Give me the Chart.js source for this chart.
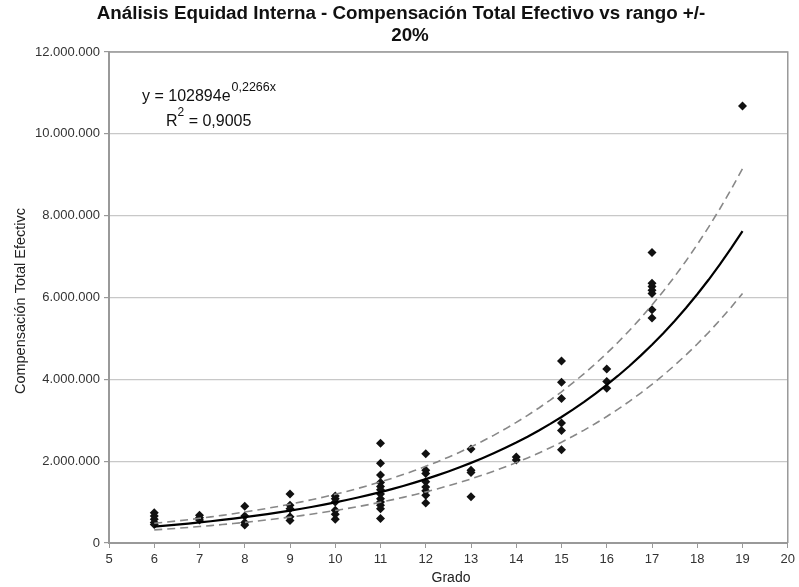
<!DOCTYPE html>
<html>
<head>
<meta charset="utf-8">
<script src="https://cdn.jsdelivr.net/npm/chart.js@4.4.1/dist/chart.umd.min.js"></script>
<style>
  html, body { margin: 0; padding: 0; background: #fff; }
  #wrap { width: 799px; height: 587px; }
</style>
</head>
<body>
<div id="wrap"><canvas id="c" width="799" height="587"></canvas></div>
<script>
// ---- Data ----
const titleLines = ["Análisis Equidad Interna - Compensación Total Efectivo vs rango +/-", "20%"];
const xAxisTitle = "Grado";
const yAxisTitle = "Compensación Total Efectivc";
const equationText = "y = 102894e";
const equationExp = "0,2266x";
const r2Text = " = 0,9005";

const grades = [6, 7, 8, 9, 10, 11, 12, 13, 14, 15, 16, 17, 19];
// compensation values per grade, in millions
const comp6  = [0.74, 0.66, 0.58, 0.50, 0.45];
const comp7  = [0.68, 0.62, 0.56];
const comp8  = [0.90, 0.66, 0.50, 0.44];
const comp9  = [1.20, 0.92, 0.84, 0.64, 0.55];
const comp10 = [1.15, 1.08, 1.00, 0.80, 0.70, 0.58];
const comp11 = [2.44, 1.95, 1.66, 1.48, 1.38, 1.30, 1.20, 1.08, 1.00, 0.92, 0.84, 0.60];
const comp12 = [2.18, 1.78, 1.70, 1.50, 1.37, 1.28, 1.17, 0.98];
const comp13 = [2.30, 1.78, 1.72, 1.13];
const comp14 = [2.10, 2.03];
const comp15 = [4.45, 3.93, 3.53, 2.93, 2.75, 2.28];
const comp16 = [4.25, 3.95, 3.78];
const comp17 = [7.10, 6.35, 6.27, 6.18, 6.10, 5.70, 5.50];
const comp19 = [10.68];
const compByGrade = [comp6, comp7, comp8, comp9, comp10, comp11, comp12, comp13, comp14, comp15, comp16, comp17, comp19];

// Trendline as printed on the chart: y = 102894 e^(0.2266x), band +/- 20%
const trendA = 102894;
const trendB = 0.2266;
const bandPct = 0.20;
const trendStart = 6, trendEnd = 19;

const yTicksMax = 12000000, yStep = 2000000;
const xMin = 5, xMax = 20;

// ---- Build datasets ----
const scatterPts = [];
grades.forEach((g, i) => compByGrade[i].forEach(v => scatterPts.push({ x: g, y: v * 1e6 })));

const trendPts = [], upperPts = [], lowerPts = [];
for (let x = trendStart; x <= trendEnd + 1e-9; x += 0.25) {
  const y = trendA * Math.exp(trendB * x);
  trendPts.push({ x, y });
  upperPts.push({ x, y: y * (1 + bandPct) });
  lowerPts.push({ x, y: y * (1 - bandPct) });
}

const FONT = "'Liberation Sans', Arial, Helvetica, sans-serif";

function fmt(v) {
  return String(Math.round(v)).replace(/\B(?=(\d{3})+(?!\d))/g, ".");
}

const decor = {
  id: 'decor',
  afterDraw(chart) {
    const ctx = chart.ctx;
    const a = chart.chartArea;
    ctx.save();
    // top & right border
    ctx.strokeStyle = '#999';
    ctx.lineWidth = 1.5;
    ctx.beginPath();
    ctx.moveTo(a.left, a.top);
    ctx.lineTo(a.right, a.top);
    ctx.lineTo(a.right, a.bottom);
    ctx.stroke();

    // title
    ctx.fillStyle = '#111';
    ctx.textAlign = 'center';
    ctx.textBaseline = 'middle';
    ctx.font = "bold 18.8px " + FONT;
    ctx.fillText(titleLines[0], 401, 14);
    ctx.fillText(titleLines[1], 410, 36);

    // x title
    ctx.font = "14px " + FONT;
    ctx.fillStyle = '#222';
    ctx.fillText(xAxisTitle, 451, 578);

    // y title
    ctx.save();
    ctx.translate(21, 301);
    ctx.rotate(-Math.PI / 2);
    ctx.font = "14.5px " + FONT;
    ctx.fillText(yAxisTitle, 0, 0);
    ctx.restore();

    // equation
    ctx.textAlign = 'left';
    ctx.textBaseline = 'alphabetic';
    ctx.font = "16px " + FONT;
    ctx.fillStyle = '#111';
    ctx.fillText(equationText, 142, 101);
    let w = ctx.measureText(equationText).width;
    ctx.font = "12.5px " + FONT;
    ctx.fillText(equationExp, 142 + w + 1, 91);

    ctx.font = "16px " + FONT;
    ctx.fillText("R", 166, 126);
    const wr = ctx.measureText("R").width;
    ctx.font = "12px " + FONT;
    ctx.fillText("2", 166 + wr, 116);
    const w2 = ctx.measureText("2").width;
    ctx.font = "16px " + FONT;
    ctx.fillText(r2Text, 166 + wr + w2, 126);
    ctx.restore();
  }
};

new Chart(document.getElementById('c'), {
  type: 'scatter',
  data: {
    datasets: [
      { label: 'trend', data: trendPts, showLine: true, borderColor: '#000', borderWidth: 2.2, pointRadius: 0, fill: false, tension: 0 },
      { label: 'upper', data: upperPts, showLine: true, borderColor: '#888', borderWidth: 1.6, borderDash: [8, 5], pointRadius: 0, fill: false },
      { label: 'lower', data: lowerPts, showLine: true, borderColor: '#888', borderWidth: 1.6, borderDash: [8, 5], pointRadius: 0, fill: false },
      { label: 'comp', data: scatterPts, pointStyle: 'rectRot', pointRadius: 4.5, pointBackgroundColor: '#111', pointBorderColor: '#111', pointBorderWidth: 0, showLine: false }
    ]
  },
  options: {
    responsive: false,
    devicePixelRatio: 1,
    animation: false,
    layout: { padding: { left: 0, right: 6, top: 52, bottom: 0 } },
    plugins: { legend: { display: false }, title: { display: false }, tooltip: { enabled: false } },
    scales: {
      x: {
        type: 'linear', min: xMin, max: xMax,
        ticks: { stepSize: 1, color: '#333', font: { family: FONT, size: 13 }, padding: 4, maxRotation: 0 },
        grid: { drawOnChartArea: false, drawTicks: true, tickLength: 5, tickColor: '#999' },
        border: { color: '#999', width: 2 },
        afterFit(s) { s.height = 44; }
      },
      y: {
        min: 0, max: yTicksMax,
        ticks: { stepSize: yStep, color: '#333', font: { family: FONT, size: 13 }, padding: 4, callback: v => fmt(v) },
        grid: { color: '#c8c8c8', lineWidth: 1.2, tickLength: 5, tickColor: '#999' },
        border: { color: '#999', width: 2 },
        afterFit(s) { s.width = 109; }
      }
    }
  },
  plugins: [decor]
});
</script>
</body>
</html>
